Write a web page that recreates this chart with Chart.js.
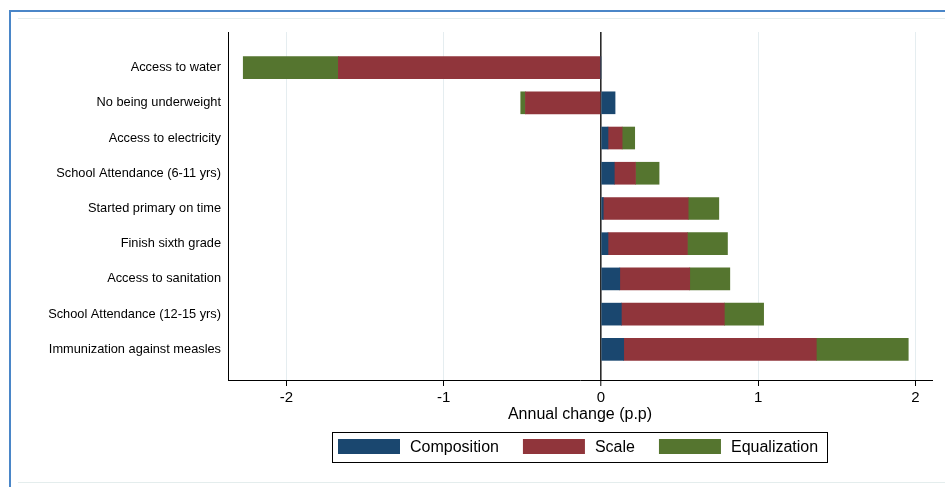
<!DOCTYPE html>
<html>
<head>
<meta charset="utf-8">
<script src="https://cdn.jsdelivr.net/npm/chart.js@4/dist/chart.umd.min.js"></script>
<style>
  html, body { margin: 0; padding: 0; background: #fff; }
  canvas { display: block; }
</style>
</head>
<body>
<canvas id="c" width="945" height="487"></canvas>
<script>
// Decomposition of annual change (percentage points) by component
const categories = [
  "Access to water",
  "No being underweight",
  "Access to electricity",
  "School Attendance (6-11 yrs)",
  "Started primary on time",
  "Finish sixth grade",
  "Access to sanitation",
  "School Attendance (12-15 yrs)",
  "Immunization against measles"
];
const composition  = [0.000,  0.090, 0.045, 0.085, 0.015, 0.045, 0.120, 0.130, 0.145];
const scale        = [-1.670, -0.480, 0.090, 0.135, 0.540, 0.505, 0.445, 0.655, 1.225];
const equalization = [-0.605, -0.030, 0.080, 0.150, 0.195, 0.255, 0.255, 0.250, 0.585];
const xTicks = [-2, -1, 0, 1, 2];
const seriesNames = ["Composition", "Scale", "Equalization"];

const FONT = '"Liberation Sans", Arial, Helvetica, sans-serif';
const COLORS = ['#1a476f', '#90353b', '#55752f'];

const toPoints = arr => arr.map((v, i) => ({ x: v, y: i }));

// Page frame: blue outer edge and faint inner rule
const framePlugin = {
  id: 'frame',
  beforeDraw(chart) {
    const ctx = chart.ctx;
    ctx.save();
    ctx.fillStyle = '#ffffff';
    ctx.fillRect(0, 0, chart.width, chart.height);
    ctx.fillStyle = '#4a86c8';
    ctx.fillRect(9, 10, 2, chart.height - 10);
    ctx.fillRect(9, 10, chart.width - 9, 2);
    ctx.fillStyle = '#e4eded';
    ctx.fillRect(18, 18, chart.width - 18, 1);
    ctx.fillRect(18, 482, chart.width - 18, 1);
    ctx.restore();
  }
};

// Boxed legend row under the axis title
const boxedLegend = {
  id: 'boxedLegend',
  afterDraw(chart) {
    const ctx = chart.ctx;
    ctx.save();
    ctx.font = '16px ' + FONT;
    const sw = 62, sh = 15, gapText = 10, gapItem = 24, padL = 6, padR = 9;
    const items = chart.data.datasets.map(ds => ({
      label: ds.label, color: ds.backgroundColor, w: ctx.measureText(ds.label).width
    }));
    let total = padL + padR + gapItem * (items.length - 1);
    items.forEach(it => { total += sw + gapText + it.w; });
    const area = chart.chartArea;
    const cx = (area.left + area.right) / 2;
    const bx = Math.round(cx - total / 2);
    const by = 432;
    const bh = 30;
    ctx.strokeStyle = '#000';
    ctx.lineWidth = 1;
    ctx.strokeRect(bx + 0.5, by + 0.5, Math.round(total), bh);
    let x = bx + padL;
    ctx.textBaseline = 'middle';
    ctx.textAlign = 'left';
    items.forEach(it => {
      ctx.fillStyle = it.color;
      ctx.fillRect(x, by + 7, sw, sh);
      x += sw + gapText;
      ctx.fillStyle = '#000';
      ctx.fillText(it.label, x, by + 15.5);
      x += it.w + gapItem;
    });
    ctx.restore();
  }
};

new Chart(document.getElementById('c'), {
  type: 'bar',
  data: {
    datasets: [
      { label: seriesNames[0], data: toPoints(composition),  backgroundColor: COLORS[0] },
      { label: seriesNames[1], data: toPoints(scale),        backgroundColor: COLORS[1] },
      { label: seriesNames[2], data: toPoints(equalization), backgroundColor: COLORS[2] }
    ]
  },
  options: {
    indexAxis: 'y',
    responsive: false,
    animation: false,
    devicePixelRatio: 1,
    layout: { padding: { top: 32, right: 13, bottom: 0, left: 0 } },
    datasets: { bar: { barThickness: 22 } },
    plugins: {
      legend: { display: false },
      tooltip: { enabled: false }
    },
    scales: {
      x: {
        type: 'linear',
        stacked: true,
        min: -2.372,
        max: 2.106,
        afterBuildTicks: s => { s.ticks = xTicks.map(v => ({ value: v })); },
        afterFit: s => { s.height = 107; },
        grid: {
          color: c => (c.tick && c.tick.value === 0) ? '#2a2a2a' : '#e5edf0',
          lineWidth: c => (c.tick && c.tick.value === 0) ? 1.6 : 1,
          tickColor: '#000',
          tickLength: 6,
          tickWidth: 1
        },
        border: { display: true, color: '#000', width: 1 },
        ticks: {
          color: '#000',
          font: { family: FONT, size: 15 },
          padding: 3,
          autoSkip: false,
          maxRotation: 0,
          callback: v => String(v)
        },
        title: {
          display: true,
          text: 'Annual change (p.p)',
          color: '#000',
          font: { family: FONT, size: 16 },
          padding: { top: 0, bottom: 63 }
        }
      },
      y: {
        type: 'linear',
        stacked: true,
        reverse: true,
        offset: false,
        bounds: 'data',
        min: -1.01,
        max: 8.87,
        afterBuildTicks: s => { s.ticks = categories.map((_, i) => ({ value: i })); },
        afterFit: s => { s.width = 228; },
        grid: { display: false, drawTicks: false, offset: false },
        border: { display: true, color: '#000', width: 1 },
        ticks: {
          autoSkip: false,
          color: '#000',
          font: { family: FONT, size: 12.8 },
          padding: 7,
          callback: v => categories[v]
        }
      }
    }
  },
  plugins: [framePlugin, boxedLegend]
});
</script>
</body>
</html>
